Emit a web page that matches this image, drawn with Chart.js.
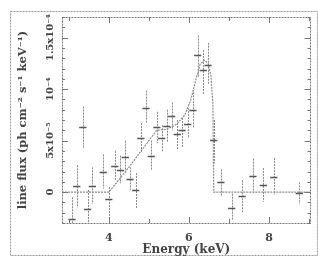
<!DOCTYPE html>
<html><head><meta charset="utf-8">
<script src="https://cdn.jsdelivr.net/npm/chart.js@4.4.1/dist/chart.umd.min.js"></script>
<style>html,body{margin:0;padding:0;background:#fff;}#wrap{width:318px;height:257px;position:relative;}</style>
</head><body><div id="wrap"><canvas id="c" width="318" height="257"></canvas></div>
<script>
// ---- data (flux in ph cm^-2 s^-1 keV^-1) ----
const energy  = [3.08,3.20,3.35,3.47,3.59,3.86,4.00,4.15,4.29,4.41,4.53,4.67,4.80,4.93,5.06,5.20,5.32,5.45,5.57,5.71,5.83,5.97,6.10,6.22,6.36,6.48,6.62,6.80,7.07,7.33,7.60,7.86,8.12,8.76];
const flux    = [-2.6e-5,0.6e-5,6.3e-5,-1.6e-5,0.6e-5,2.0e-5,-0.7e-5,2.5e-5,2.1e-5,3.4e-5,1.3e-5,0.2e-5,5.3e-5,8.2e-5,3.5e-5,6.3e-5,5.3e-5,6.4e-5,7.4e-5,5.6e-5,6.0e-5,6.6e-5,8.0e-5,13.3e-5,11.9e-5,12.3e-5,5.1e-5,1.0e-5,-1.5e-5,-0.4e-5,1.6e-5,0.7e-5,1.5e-5,-0.1e-5];
const errUp   = [2.1e-5,2.0e-5,2.0e-5,1.8e-5,1.8e-5,1.65e-5,1.2e-5,1.5e-5,1.45e-5,1.6e-5,1.1e-5,1.65e-5,1.4e-5,1.65e-5,1.5e-5,1.5e-5,1.2e-5,1.6e-5,1.3e-5,1.4e-5,1.2e-5,1.55e-5,1.7e-5,1.9e-5,1.9e-5,2.2e-5,1.9e-5,1.2e-5,1.35e-5,1.55e-5,1.65e-5,1.65e-5,1.8e-5,1.05e-5];
const errDown = [0.4e-5,2.1e-5,2.0e-5,1.3e-5,1.75e-5,1.65e-5,1.6e-5,1.35e-5,1.25e-5,1.55e-5,1.1e-5,1.75e-5,1.4e-5,1.55e-5,1.4e-5,1.55e-5,1.4e-5,1.55e-5,1.4e-5,1.5e-5,1.7e-5,1.3e-5,1.7e-5,2.2e-5,2.4e-5,1.8e-5,2.3e-5,1.45e-5,1.25e-5,1.55e-5,1.65e-5,1.65e-5,1.75e-5,1.05e-5];
const binHalfWidth = 0.09;
const modelEnergy = [2.83,4.00,4.50,5.00,5.20,5.45,5.70,5.90,6.05,6.18,6.28,6.38,6.48,6.55,6.60,6.62,9.04];
const modelFlux   = [0,0,2.4e-5,5.0e-5,6.0e-5,6.1e-5,6.6e-5,7.5e-5,9.0e-5,11.0e-5,12.4e-5,12.8e-5,12.5e-5,11.3e-5,8.5e-5,0,0];
const xTickValues = [4,6,8];
const xTickLabels = ['4','6','8'];
const yTickValues = [0,5e-5,1e-4,1.5e-4];
const yTickLabels = ['0','5x10\u207B\u2075','10\u207B\u2074','1.5x10\u207B\u2074'];

const FAM = '"DejaVu Serif", serif';
const TXT = '#444';
function textWidth(t, f){const c=document.createElement('canvas').getContext('2d'); c.font=f; return c.measureText(t).width;}
const widest = Math.max(...yTickLabels.map(t=>textWidth(t,'bold 10px "DejaVu Serif"')));
const yTickPad = 62 - 50 - widest/2;

const framePlugin = {
  id:'frame',
  beforeDraw(chart){
    const c=chart.ctx; c.save(); c.fillStyle='#fff'; c.fillRect(0,0,chart.width,chart.height);
    c.strokeStyle='#999'; c.lineWidth=1; c.setLineDash([2,1]);
    c.strokeRect(10.5,11.5,307,244); c.restore();
  },
  afterDraw(chart){
    const c=chart.ctx, a=chart.chartArea, xs=chart.scales.x, ys=chart.scales.y;
    c.save(); c.strokeStyle='#777'; c.lineWidth=1; c.setLineDash([2,1]);
    c.strokeRect(Math.round(a.left)+0.5,Math.round(a.top)+0.5,Math.round(a.right-a.left)-1,Math.round(a.bottom-a.top));
    c.setLineDash([]); c.strokeStyle='#777';
    c.beginPath();
    xs.ticks.forEach(t=>{ const p=Math.round(xs.getPixelForValue(t.value))+0.5; const L=xTickValues.includes(t.value)?6:4;
      c.moveTo(p,a.bottom); c.lineTo(p,a.bottom-L); c.moveTo(p,a.top); c.lineTo(p,a.top+L); });
    ys.ticks.forEach(t=>{ const p=Math.round(ys.getPixelForValue(t.value))+0.5; const maj=yTickValues.some(v=>Math.abs(v-t.value)<1e-9); const L=maj?6:3;
      c.moveTo(a.left,p); c.lineTo(a.left+L,p); c.moveTo(a.right,p); c.lineTo(a.right-L,p); });
    c.stroke(); c.restore();
  }
};
const errorBarPlugin = {
  id:'errbars',
  afterDatasetsDraw(chart){
    const c=chart.ctx, xs=chart.scales.x, ys=chart.scales.y, a=chart.chartArea;
    c.save(); c.beginPath(); c.rect(a.left,a.top,a.right-a.left,a.bottom-a.top); c.clip();
    energy.forEach((e,i)=>{
      const px=Math.round(xs.getPixelForValue(e))+0.5;
      const py=Math.round(ys.getPixelForValue(flux[i]))+0.5;
      c.strokeStyle='#8a8a8a'; c.lineWidth=1; c.setLineDash([2,1]);
      c.beginPath(); c.moveTo(px,ys.getPixelForValue(flux[i]+errUp[i])); c.lineTo(px,ys.getPixelForValue(flux[i]-errDown[i])); c.stroke();
      c.setLineDash([]); c.strokeStyle='#555'; c.lineWidth=1.4;
      c.beginPath(); c.moveTo(xs.getPixelForValue(e-binHalfWidth),py); c.lineTo(xs.getPixelForValue(e+binHalfWidth),py); c.stroke();
    });
    c.restore();
  }
};

new Chart(document.getElementById('c'),{
  type:'scatter',
  data:{datasets:[
    {type:'line',data:modelEnergy.map((e,i)=>({x:e,y:modelFlux[i]})),borderColor:'#8c8c8c',borderWidth:1.2,borderDash:[2,1],pointRadius:0,fill:false,tension:0},
    {type:'scatter',data:energy.map((e,i)=>({x:e,y:flux[i]})),pointRadius:0}
  ]},
  options:{
    animation:false,responsive:false,devicePixelRatio:1,
    layout:{padding:{left:12,right:2,top:17,bottom:0}},
    plugins:{legend:{display:false},tooltip:{enabled:false}},
    scales:{
      x:{type:'linear',min:2.83,max:9.04,
        afterFit(s){s.height=34;},
        grid:{display:false,drawTicks:false},border:{display:false},
        ticks:{stepSize:1,includeBounds:false,autoSkip:false,maxRotation:0,padding:9,color:TXT,font:{family:FAM,size:11,weight:'bold'},
          callback:v=>{const k=xTickValues.indexOf(v);return k>=0?xTickLabels[k]:'';}},
        title:{display:true,text:'Energy (keV)',color:TXT,font:{family:FAM,size:12,weight:'bold'},padding:{top:0,bottom:0}}
      },
      y:{type:'linear',min:-3e-5,max:1.7e-4,
        afterFit(s){s.width=50;},
        grid:{display:false,drawTicks:false},border:{display:false},
        ticks:{stepSize:1e-5,includeBounds:false,autoSkip:false,minRotation:90,maxRotation:90,crossAlign:'center',padding:yTickPad,color:TXT,font:{family:FAM,size:10,weight:'bold'},
          callback:v=>{const k=yTickValues.findIndex(t=>Math.abs(t-v)<1e-9);return k>=0?yTickLabels[k]:'';}},
        title:{display:true,text:'line flux (ph cm\u207B\u00B2 s\u207B\u00B9 keV\u207B\u00B9)',color:TXT,font:{family:FAM,size:11.5,weight:'bold'},padding:{top:4,bottom:0}}
      }
    }
  },
  plugins:[framePlugin,errorBarPlugin]
});
</script></body></html>
